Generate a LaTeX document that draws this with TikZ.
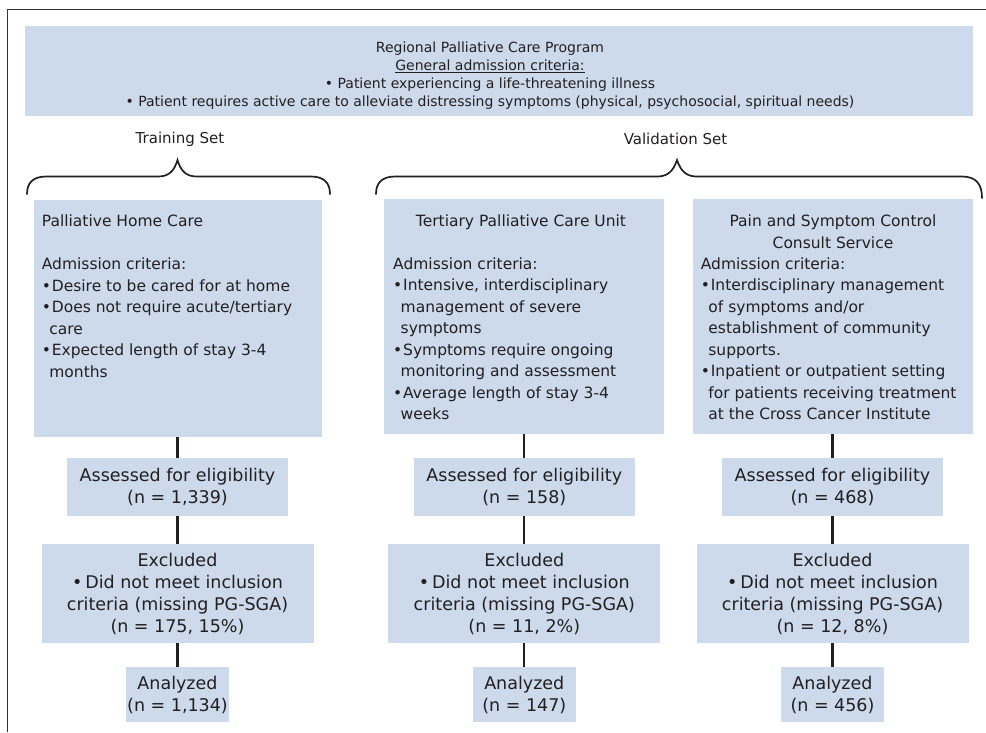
\documentclass[tikz,border=0pt]{standalone}
\usepackage{fontspec}
\setmainfont{DejaVu Sans}
\definecolor{boxblue}{RGB}{204,218,236}
\definecolor{ink}{RGB}{35,31,32}
\newcommand{\bl}{\makebox[10pt][l]{\textbullet}}
\newcommand{\ct}{\hspace*{7.5pt}}
\newcommand{\fst}{\rule{0pt}{13pt}}
\begin{document}
\begin{tikzpicture}[x=1pt,y=-1pt,
  box/.style={fill=boxblue, draw=none, inner sep=0pt, outer sep=0pt, text=ink},
  mainbox/.style={box, anchor=north west},
  lowbox/.style={box, align=center, font=\fontsize{17.5}{22}\selectfont},
  bodytext/.style={anchor=north west, inner sep=0pt, align=left, text=ink, font=\fontsize{15.5}{21.5}\selectfont},
  titletext/.style={anchor=north, inner sep=0pt, align=center, text=ink, font=\fontsize{15.5}{21.5}\selectfont},
  toptext/.style={anchor=north, inner sep=0pt, align=center, text=ink, font=\fontsize{14}{18}\selectfont},
  setlabel/.style={inner sep=0pt, text=ink, font=\fontsize{15}{18}\selectfont},
  conn/.style={draw=ink, line width=2.2pt},
  bracestyle/.style={draw=ink, line width=1.7pt, line cap=round},
  framestyle/.style={draw=black!80, line width=1.4pt}]
\useasboundingbox (0,0) rectangle (986,732);

% frame
\draw[framestyle] (986,9.5) -- (7.5,9.5) -- (7.5,732);

% top box
\node[mainbox, minimum width=948, minimum height=90] (top) at (25,26) {};
\node[toptext] (toptxt) at (490,41) {\rule{0pt}{11pt}Regional Palliative Care Program\\
\underline{General admission criteria:}\\
\textbullet\ Patient experiencing a life-threatening illness\\
\textbullet\ Patient requires active care to alleviate distressing symptoms (physical, psychosocial, spiritual needs)};

% set labels
\node[setlabel] (train) at (180,139) {Training Set};
\node[setlabel] (valid) at (675.5,139) {Validation Set};

% braces
\draw[bracestyle] (27,194) .. controls (27,183) and (33,176.5) .. (46,176.5) -- (158,176.5)
  .. controls (168,176.5) and (174,172) .. (177.5,160)
  .. controls (181,172) and (187,176.5) .. (197,176.5) -- (311,176.5)
  .. controls (324,176.5) and (330,183) .. (330,194);
\draw[bracestyle] (376,194) .. controls (376,183) and (382,176.5) .. (395,176.5) -- (657,176.5)
  .. controls (667,176.5) and (673,172) .. (677,160)
  .. controls (681,172) and (687,176.5) .. (697,176.5) -- (962,176.5)
  .. controls (976,176.5) and (982,184) .. (982,198);

% main boxes
\node[mainbox, minimum width=288, minimum height=237] (home) at (34,200) {};
\node[mainbox, minimum width=280, minimum height=235] (tert) at (384,199) {};
\node[mainbox, minimum width=280, minimum height=235] (pain) at (693,199) {};

\node[bodytext] (hometxt) at (41.7,213.5) {\fst Palliative Home Care\\[21.5pt]
Admission criteria:\\
\bl Desire to be cared for at home\\
\bl Does not require acute/tertiary\\
\ct care\\
\bl Expected length of stay 3-4\\
\ct months};

\node[titletext] (terttitle) at (521,213.5) {\fst Tertiary Palliative Care Unit};
\node[bodytext] (terttxt) at (393,256) {\fst Admission criteria:\\
\bl Intensive, interdisciplinary\\
\ct management of severe\\
\ct symptoms\\
\bl Symptoms require ongoing\\
\ct monitoring and assessment\\
\bl Average length of stay 3-4\\
\ct weeks};

\node[titletext] (paintitle) at (833,213.5) {\fst Pain and Symptom Control\\Consult Service};
\node[bodytext] (paintxt) at (700.7,256) {\fst Admission criteria:\\
\bl Interdisciplinary management\\
\ct of symptoms and/or\\
\ct establishment of community\\
\ct supports.\\
\bl Inpatient or outpatient setting\\
\ct for patients receiving treatment\\
\ct at the Cross Cancer Institute};

% lower boxes, column 1
\node[lowbox, minimum width=221, minimum height=58] (a1) at (177.5,487) {Assessed for eligibility\\(n = 1,339)};
\node[lowbox, minimum width=272, minimum height=99] (e1) at (177.5,593.5) {Excluded\\\textbullet\,Did not meet inclusion\\criteria (missing PG-SGA)\\(n = 175, 15\%)};
\node[lowbox, minimum width=103, minimum height=55] (n1) at (177.5,694.5) {Analyzed\\(n = 1,134)};
% column 2
\node[lowbox, minimum width=221, minimum height=58] (a2) at (524.3,487) {Assessed for eligibility\\(n = 158)};
\node[lowbox, minimum width=272, minimum height=99] (e2) at (524.3,593.5) {Excluded\\\textbullet\,Did not meet inclusion\\criteria (missing PG-SGA)\\(n = 11, 2\%)};
\node[lowbox, minimum width=103, minimum height=55] (n2) at (524.3,694.5) {Analyzed\\(n = 147)};
% column 3
\node[lowbox, minimum width=221, minimum height=58] (a3) at (832.5,487) {Assessed for eligibility\\(n = 468)};
\node[lowbox, minimum width=272, minimum height=99] (e3) at (832.5,593.5) {Excluded\\\textbullet\,Did not meet inclusion\\criteria (missing PG-SGA)\\(n = 12, 8\%)};
\node[lowbox, minimum width=103, minimum height=55] (n3) at (832.5,694.5) {Analyzed\\(n = 456)};

% connectors
\draw[conn] (a1.north |- home.south) -- (a1.north);
\draw[conn] (a1.south) -- (e1.north);
\draw[conn] (e1.south) -- (n1.north);
\draw[conn] (a2.north |- tert.south) -- (a2.north);
\draw[conn] (a2.south) -- (e2.north);
\draw[conn] (e2.south) -- (n2.north);
\draw[conn] (a3.north |- pain.south) -- (a3.north);
\draw[conn] (a3.south) -- (e3.north);
\draw[conn] (e3.south) -- (n3.north);
\end{tikzpicture}
\end{document}
